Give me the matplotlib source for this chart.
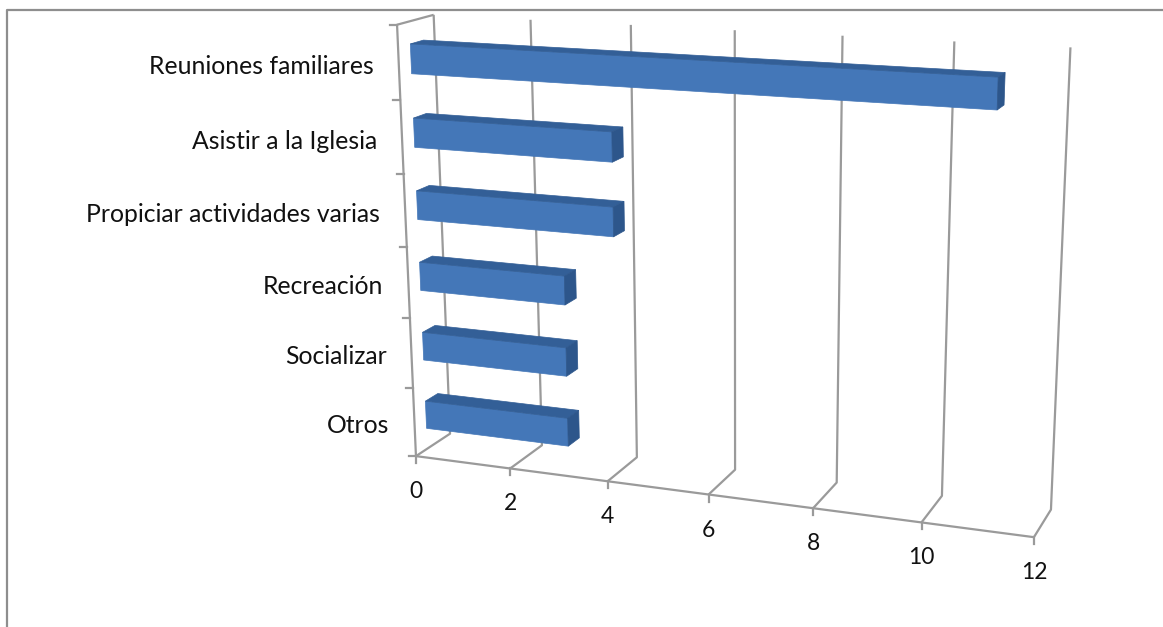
import numpy as np
import matplotlib
matplotlib.use('Agg')
import matplotlib.pyplot as plt
from matplotlib.patches import Polygon

categories = ['Otros', 'Socializar', 'Recreación', 'Propiciar actividades varias',
              'Asistir a la Iglesia', 'Reuniones familiares']
values = [3, 3, 3, 4, 4, 11]
value_ticks = [0, 2, 4, 6, 8, 10, 12]

# (value, height, depth) -> pixel anchors, fitted to one camera
anchors = [((0, 0, 0), (416, 456)), ((4, 0, 0), (607.7, 481.7)), ((10, 0, 0), (921.7, 522)),
           ((12, 0, 0), (1034, 537)), ((0, 1, 0), (396.7, 25)), ((4, 0, 1), (636.7, 457.3)),
           ((10, 0, 1), (941.7, 495.7)), ((12, 0, 1), (1051, 510)), ((0, 1, 1), (434, 15)),
           ((2, 1, 1), (530.7, 19)), ((4, 1, 1), (630.7, 25)), ((10, 1, 1), (954, 41.7)),
           ((12, 1, 1), (1070.7, 47.3))]

rows = []
rhs = []
for (v, h, d), (px, py) in anchors:
    rows.append([v, h, d, 1, 0, 0, 0, 0, -px * v, -px * h, -px * d])
    rhs.append(px)
    rows.append([0, 0, 0, 0, v, h, d, 1, -py * v, -py * h, -py * d])
    rhs.append(py)
m = np.linalg.lstsq(np.array(rows, dtype=float), np.array(rhs, dtype=float), rcond=None)[0]


def project(v, h, d):
    w = m[8] * v + m[9] * h + m[10] * d + 1
    return ((m[0] * v + m[1] * h + m[2] * d + m[3]) / w,
            (m[4] * v + m[5] * h + m[6] * d + m[7]) / w)


fig = plt.figure(figsize=(11.63, 6.27), dpi=100)
ax = fig.add_axes([0, 0, 1, 1])
ax.set_xlim(0, 1163)
ax.set_ylim(627, 0)
ax.axis('off')

grey = '#9a9a9a'
text_color = '#111111'
font = 'Lato'


def line3d(points, lw=1.6):
    xy = np.array([project(*p) for p in points])
    ax.plot(xy[:, 0], xy[:, 1], color=grey, lw=lw, solid_capstyle='butt', zorder=1)


# outer frame
ax.plot([7, 7, 1163], [627, 9.5, 9.5], color='#8e8e8e', lw=1.6, zorder=1)

# walls, floor
for v in value_ticks:
    line3d([(v, 0, 0), (v, 0, 1), (v, 1, 1)])
    px, py = project(v, 0, 0)
    ax.plot([px, px], [py, py + 7], color=grey, lw=1.6, zorder=1)
    ax.text(px, py + 35.5, str(v), ha='center', va='center', fontsize=16.5,
            family=font, color=text_color)
line3d([(0, 0, 0), (12, 0, 0)])
line3d([(0, 0, 0), (0, 1, 0), (0, 1, 1)])

n = len(categories)
for i in range(n + 1):
    px, py = project(0, i / n, 0)
    ax.plot([px - 7, px], [py, py], color=grey, lw=1.6, zorder=1)

# bars
d0, d1 = 0.33, 0.69
for i, (name, val) in enumerate(zip(categories, values)):
    h0 = (i + 0.3) / n
    h1 = (i + 0.7) / n
    front = [project(0, h0, d0), project(val, h0, d0), project(val, h1, d0), project(0, h1, d0)]
    top = [project(0, h1, d0), project(val, h1, d0), project(val, h1, d1), project(0, h1, d1)]
    side = [project(val, h0, d0), project(val, h0, d1), project(val, h1, d1), project(val, h1, d0)]
    ax.add_patch(Polygon(front, closed=True, fc='#4477b8', ec='#4477b8', lw=0.5, zorder=3))
    ax.add_patch(Polygon(top, closed=True, fc='#335f97', ec='#335f97', lw=0.5, zorder=3))
    ax.add_patch(Polygon(side, closed=True, fc='#2d568b', ec='#2d568b', lw=0.5, zorder=3))
    px, py = project(0, (i + 0.5) / n, 0)
    ax.text(px - 25, py + 4, name, ha='right', va='center', fontsize=17.8,
            family=font, color=text_color)

fig.savefig('out.png', dpi=100)
